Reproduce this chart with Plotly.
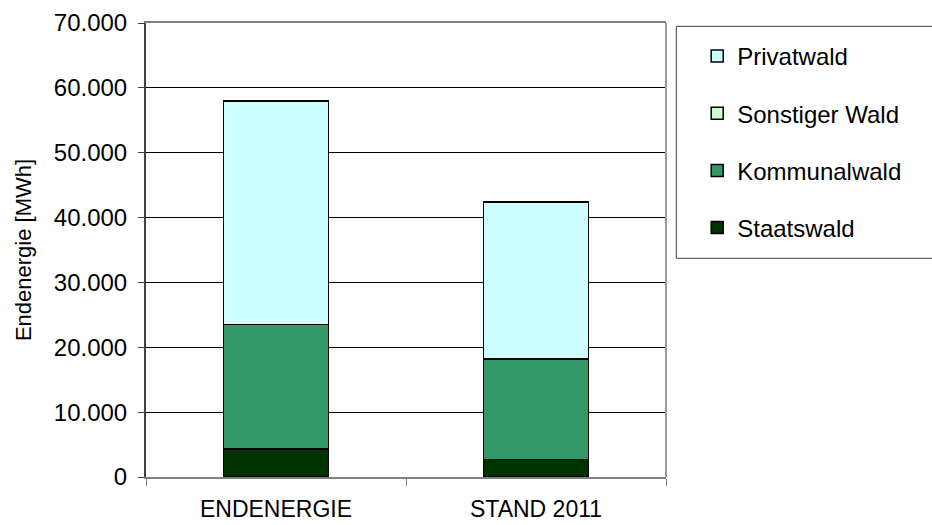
import plotly.graph_objects as go

# Endenergie aus Holz nach Waldbesitzart [MWh]
categories = ["ENDENERGIE", "STAND 2011"]
staatswald = [4300, 2700]
kommunalwald = [19200, 15500]
sonstiger_wald = [0, 0]
privatwald = [34500, 24200]

# (name, values, colour, position in the legend from the top)
series = [
    ("Staatswald", staatswald, "#003300", 4),
    ("Kommunalwald", kommunalwald, "#339966", 3),
    ("Sonstiger Wald", sonstiger_wald, "#CCFFCC", 2),
    ("Privatwald", privatwald, "#CCFFFF", 1),
]

FONT = "Liberation Sans, Arial, sans-serif"

fig = go.Figure()
for name, values, color, rank in series:
    fig.add_trace(go.Bar(
        x=categories, y=values, name=name, legendgroup=name, legendrank=rank,
        marker=dict(color=color, line=dict(color="#000000", width=1.5)),
    ))

fig.update_layout(
    width=932, height=525,
    margin=dict(l=146, r=266, t=23, b=48, autoexpand=False),
    paper_bgcolor="white", plot_bgcolor="white",
    barmode="stack", bargap=0.596,
    separators=",.",
    font=dict(family=FONT, size=24, color="#000000"),
    showlegend=True,
    legend=dict(
        x=1.06, y=0.976, xanchor="left", yanchor="top",
        traceorder="grouped", tracegroupgap=23,
        bgcolor="rgba(0,0,0,0)", borderwidth=0,
        font=dict(family=FONT, size=24, color="#000000"),
    ),
    yaxis=dict(
        range=[0, 70000], dtick=10000, tickformat=",",
        showgrid=True, gridcolor="#000000", gridwidth=1,
        zeroline=False, automargin=False,
        showline=True, linecolor="#404040", linewidth=2,
        ticks="outside", ticklen=6, tickcolor="#404040", tickwidth=1,
        ticklabelstandoff=6,
        title=dict(text="Endenergie [MWh]", standoff=16,
                   font=dict(family=FONT, size=22)),
        tickfont=dict(family=FONT, size=24),
    ),
    xaxis=dict(
        showgrid=False, zeroline=False, automargin=False,
        showline=True, linecolor="#808080", linewidth=2, mirror=True,
        ticks="outside", tickson="boundaries", ticklen=7,
        tickcolor="#808080", tickwidth=1,
        ticklabelstandoff=10,
        tickfont=dict(family=FONT, size=23),
    ),
    shapes=[
        # right edge of the plot area
        dict(type="line", xref="paper", yref="paper", x0=1, x1=1, y0=0, y1=1,
             line=dict(color="#999999", width=2)),
        # legend frame
        dict(type="rect", xref="paper", yref="paper",
             x0=1.0198, x1=1.53, y0=0.4817, y1=0.9927,
             line=dict(color="#404040", width=1)),
    ],
)

fig.write_html("out.html")
